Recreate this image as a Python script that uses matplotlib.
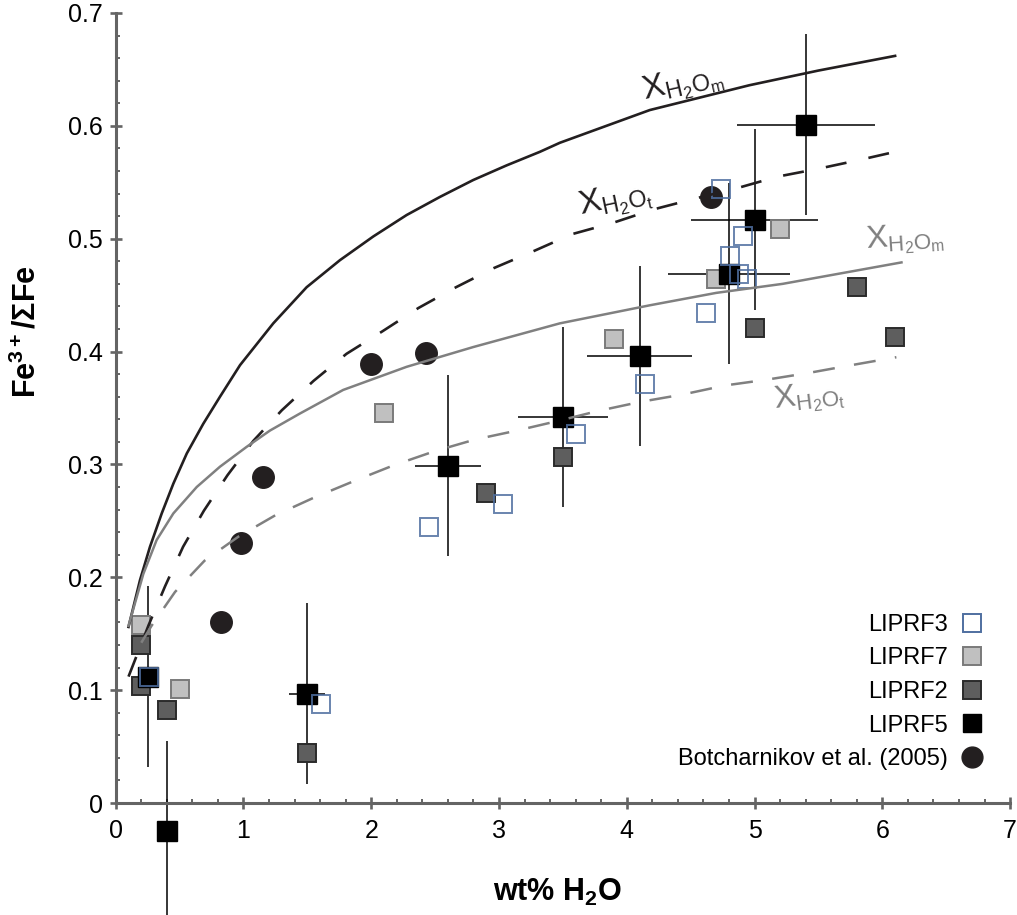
import matplotlib
matplotlib.use('Agg')
import matplotlib.pyplot as plt
from matplotlib.ticker import MultipleLocator
from matplotlib.lines import Line2D

plt.rcParams['font.family'] = ['Liberation Sans', 'DejaVu Sans']
plt.rcParams['mathtext.fontset'] = 'custom'
plt.rcParams['mathtext.rm'] = 'Liberation Sans'
plt.rcParams['mathtext.bf'] = 'Liberation Sans:bold'
plt.rcParams['mathtext.default'] = 'regular'

# model curves
blk_m_x = [0.10, 0.19, 0.268, 0.36, 0.451, 0.556, 0.685, 0.816, 0.973, 1.233, 1.494, 1.755,
           2.016, 2.277, 2.537, 2.798, 3.06, 3.32, 3.476, 4.18, 4.96, 5.5, 6.10]
blk_m_y = [0.156, 0.1975, 0.227, 0.2566, 0.283, 0.3097, 0.336, 0.360, 0.388, 0.425, 0.457, 0.481,
           0.502, 0.521, 0.537, 0.552, 0.565, 0.577, 0.585, 0.614, 0.636, 0.649, 0.662]

blk_t_x = [0.10, 0.257, 0.386, 0.527, 0.69, 0.875, 1.078, 1.30, 1.548, 1.806, 2.088,
           2.369, 2.663, 2.96, 3.265, 3.57, 3.89, 4.21, 4.55, 4.87, 5.18, 5.50, 5.83, 6.085]
blk_t_y = [0.112, 0.1575, 0.192, 0.227, 0.259, 0.2905, 0.321, 0.348, 0.374, 0.398, 0.418,
           0.4386, 0.457, 0.474, 0.4887, 0.504, 0.514, 0.526, 0.536, 0.545, 0.555, 0.562, 0.570, 0.5766]

gry_m_x = [0.10, 0.216, 0.32, 0.451, 0.634, 0.816, 1.025, 1.207, 1.44, 1.78, 2.277,
           2.798, 3.476, 4.18, 4.70, 5.22, 6.15]
gry_m_y = [0.157, 0.203, 0.233, 0.2566, 0.280, 0.298, 0.3156, 0.330, 0.345, 0.366, 0.3865,
           0.404, 0.425, 0.441, 0.452, 0.460, 0.479]

gry_t_x = [0.20, 0.28, 0.464, 0.695, 0.965, 1.25, 1.55, 1.87, 2.17, 2.49, 2.81, 3.14,
           3.46, 3.78, 4.11, 4.44, 4.77, 5.09, 5.42, 5.76, 6.11]
gry_t_y = [0.142, 0.157, 0.187, 0.2147, 0.2364, 0.255, 0.2705, 0.2855, 0.299, 0.3115, 0.322, 0.330,
           0.3385, 0.3475, 0.3555, 0.362, 0.370, 0.375, 0.381, 0.388, 0.395]

# samples
f3_x = [0.26, 1.61, 2.45, 3.03, 3.60, 4.14, 4.62, 4.74, 4.81, 4.88, 4.91, 4.94]
f3_y = [0.112, 0.088, 0.245, 0.265, 0.327, 0.371, 0.434, 0.544, 0.485, 0.469, 0.502, 0.464]

f7_x = [0.20, 0.50, 2.10, 3.90, 4.70, 5.20]
f7_y = [0.158, 0.101, 0.346, 0.411, 0.464, 0.509]

f2_x = [0.20, 0.20, 0.40, 1.50, 2.90, 3.50, 5.00, 5.80, 6.10]
f2_y = [0.140, 0.104, 0.082, 0.044, 0.275, 0.307, 0.421, 0.457, 0.413]

f5_x = [0.40, 0.25, 1.50, 2.60, 3.50, 4.10, 4.80, 5.00, 5.40]
f5_y = [-0.025, 0.112, 0.097, 0.299, 0.342, 0.396, 0.469, 0.517, 0.601]
f5_xerr = [0.04, 0.025, 0.14, 0.26, 0.35, 0.41, 0.48, 0.50, 0.54]
f5_yerr = [0.08, 0.08, 0.08, 0.08, 0.08, 0.08, 0.08, 0.08, 0.08]

bot_x = [0.82, 0.98, 1.15, 2.00, 2.43, 4.66]
bot_y = [0.160, 0.230, 0.289, 0.389, 0.399, 0.537]

x_ticks = [0, 1, 2, 3, 4, 5, 6, 7]
x_ticklabels = ['0', '1', '2', '3', '4', '5', '6', '7']
y_ticks = [0, 0.1, 0.2, 0.3, 0.4, 0.5, 0.6, 0.7]
y_ticklabels = ['0', '0.1', '0.2', '0.3', '0.4', '0.5', '0.6', '0.7']

axis_col = '#646464'
gray = '#808080'
ink = '#231f20'

fig = plt.figure(figsize=(10.17, 9.15), dpi=100)
ax = fig.add_axes([0.1138, 0.1224, 0.8794, 0.8634])

# data points
ax.plot(f2_x, f2_y, 's', ms=13.5, mfc='#5e5e5e', mec='#2b2b2b', mew=1.4, zorder=3, clip_on=False)
ax.plot(f7_x, f7_y, 's', ms=13.5, mfc='#c0c0c0', mec='#7a7a7a', mew=1.4, zorder=3, clip_on=False)
eb = ax.errorbar(f5_x, f5_y, xerr=f5_xerr, yerr=f5_yerr, fmt='none', ecolor='black',
                 elinewidth=1.1, capsize=0, zorder=2)
for c in eb.lines[2]:
    c.set_clip_on(False)
ax.plot(f5_x, f5_y, 's', ms=15, mfc='black', mec='black', mew=1, zorder=4, clip_on=False)
ax.plot(f3_x, f3_y, 's', ms=13.5, mfc='none', mec='#4f6fa0', mew=1.4, alpha=0.85, zorder=4, clip_on=False)
ax.plot(bot_x, bot_y, 'o', ms=15.5, mfc=ink, mec=ink, zorder=3, clip_on=False)

# curves
ax.plot(blk_m_x, blk_m_y, color=ink, lw=1.9, zorder=6)
ax.plot(blk_t_x, blk_t_y, color=ink, lw=1.9, dashes=(8, 8.5), zorder=6)
ax.plot(gry_m_x, gry_m_y, color=gray, lw=1.8, zorder=6)
ax.plot(gry_t_x, gry_t_y, color=gray, lw=1.8, dashes=(8.8, 7.8), zorder=6)

# curve labels
ax.text(4.44, 0.637, r'X$_{H_2O_m}$', fontsize=24, color=ink, rotation=13, ha='center', va='center')
ax.text(3.91, 0.534, r'X$_{H_2O_t}$', fontsize=24, color=ink, rotation=12, ha='center', va='center')
ax.text(6.18, 0.500, r'X$_{H_2O_m}$', fontsize=23, color=gray, rotation=4, ha='center', va='center')
ax.text(5.43, 0.359, r'X$_{H_2O_t}$', fontsize=23, color=gray, rotation=7, ha='center', va='center')

ax.set_xlim(0, 7)
ax.set_ylim(0, 0.7)
ax.set_xticks(x_ticks)
ax.set_xticklabels(x_ticklabels)
ax.set_yticks(y_ticks)
ax.set_yticklabels(y_ticklabels)
ax.xaxis.set_minor_locator(MultipleLocator(0.2))
ax.yaxis.set_minor_locator(MultipleLocator(0.02))

for s in ['top', 'right']:
    ax.spines[s].set_visible(False)
for s in ['left', 'bottom']:
    ax.spines[s].set_color(axis_col)
    ax.spines[s].set_linewidth(2.2)

ax.tick_params(which='major', direction='inout', length=8.5, width=1.9, color=axis_col,
               labelsize=18)
ax.tick_params(which='minor', direction='in', length=3, width=1.4, color=axis_col)
ax.tick_params(axis='x', which='major', pad=7)
ax.tick_params(axis='y', which='major', pad=5)

ax.set_xlabel(r'wt% H$\mathbf{_2}$O', fontsize=22, fontweight='bold')
ax.set_ylabel(r'Fe$\mathbf{^{3+}}$/ΣFe', fontsize=22, fontweight='bold')
ax.xaxis.set_label_coords(0.494, -0.093)
ax.yaxis.set_label_coords(-0.082, 0.597)

handles = [
    Line2D([], [], ls='none', marker='s', ms=13.5, mfc='none', mec='#4f6fa0', mew=1.4),
    Line2D([], [], ls='none', marker='s', ms=13.5, mfc='#c0c0c0', mec='#7a7a7a', mew=1.4),
    Line2D([], [], ls='none', marker='s', ms=13.5, mfc='#5e5e5e', mec='#2b2b2b', mew=1.4),
    Line2D([], [], ls='none', marker='s', ms=13.5, mfc='black', mec='black'),
    Line2D([], [], ls='none', marker='o', ms=15, mfc=ink, mec=ink),
]
labels = ['LIPRF3', 'LIPRF7', 'LIPRF2', 'LIPRF5', 'Botcharnikov et al. (2005)']
ax.legend(handles, labels, loc='lower right', bbox_to_anchor=(0.9794, 0.1454),
          bbox_transform=fig.transFigure, frameon=False, markerfirst=False,
          handlelength=1.0, handletextpad=0.55, labelspacing=0.49, borderpad=0,
          fontsize=17)

fig.savefig('out.png', dpi=100)
